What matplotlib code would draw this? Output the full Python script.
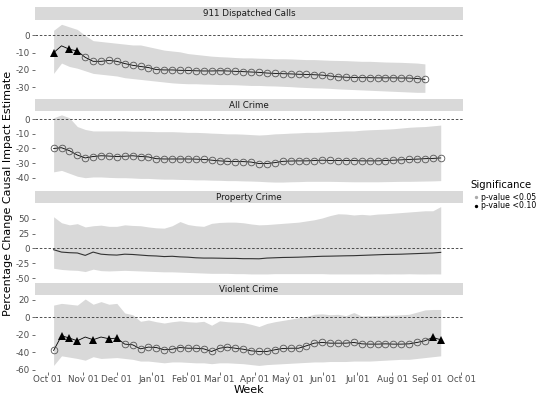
import matplotlib
matplotlib.use("Agg")
import numpy as np
import pandas as pd
import matplotlib.pyplot as plt
import matplotlib.dates as mdates
from matplotlib.lines import Line2D

plt.rcParams["font.family"] = ["DejaVu Sans"]
plt.rcParams["axes.unicode_minus"] = False

# ---------- data (weekly estimates) ----------

START = "2019-10-06"

titles = ["911 Dispatched Calls", "All Crime", "Property Crime", "Violent Crime"]

calls_est = [-10, -6, -8, -9, -12.7, -15, -15, -14.5, -15, -16.3,
             -17.3, -18, -18.6, -19.8, -20, -20, -20.2, -20.3, -20.5, -20.6,
             -20.6, -20.5, -20.6, -20.8, -21, -21.2, -21.4, -21.8, -22, -22.2,
             -22.3, -22.5, -22.6, -22.8, -23, -23.5, -24, -24.2, -24.4, -24.5,
             -24.5, -24.6, -24.6, -24.6, -24.7, -24.7, -25, -25.5]
calls_upper = [3, 6.5, 5, 3.5, 0, -3, -3.5, -4, -4.5, -5,
               -5.5, -5.5, -6.5, -7.5, -8.5, -9, -9.5, -10.5, -11, -11.5,
               -12, -12.3, -12.5, -12.8, -13, -13, -13.2, -13.3, -13.5, -13.5,
               -13.6, -13.8, -14, -14, -14.2, -14.4, -14.5, -14.6, -14.8, -15,
               -15, -15.2, -15.4, -15.5, -15.6, -15.8, -16, -16.5]
calls_lower = [-22, -16, -18, -19, -20.5, -22, -22.5, -23, -23.5, -24.5,
               -25, -25.5, -26, -26.5, -27, -27.5, -27.8, -28, -28, -28.2,
               -28.3, -28.5, -28.5, -28.6, -28.8, -29, -29, -29.2, -29.3, -29.5,
               -29.7, -30, -30.2, -30.4, -30.5, -30.7, -31, -31.2, -31.4, -31.6,
               -31.8, -32, -32.2, -32.4, -32.6, -32.8, -33, -33]
# C = p-value <0.05 (open circle), T = p-value <0.10 (triangle), - = none
calls_sig = "T-TTCCCCCCCCCCCCCCCCCCCCCCCCCCCCCCCCCCCCCCCCCCCC"

crime_est = [-20, -19.5, -21.5, -24.5, -26.5, -25.5, -25, -25.2, -25.5, -25.3,
             -25, -25.5, -25.8, -27, -27.2, -27.2, -27.2, -27.2, -27.3, -27.5,
             -28, -28.5, -28.8, -29, -29, -29.3, -30.3, -30.3, -29.7, -28.8,
             -28.6, -28.5, -28.5, -28.3, -28, -28.2, -28.3, -28.3, -28.3, -28.5,
             -28.5, -28.5, -28.3, -28, -27.8, -27.5, -27.3, -27, -26.8, -26.5]
crime_upper = [1, 3, 1, -5, -7, -8, -8, -8, -8, -8,
               -8.2, -8.2, -8.3, -8.5, -8.5, -8.5, -8.7, -9, -9, -9.2,
               -9.5, -9.7, -10, -10, -10.2, -10.5, -10.8, -10.5, -10, -9.8,
               -9.5, -9.3, -9, -9, -8.8, -8.5, -8.3, -8, -8, -7.5,
               -7.2, -7, -6.8, -6.5, -6, -5.5, -5.2, -5, -4.5, -4]
crime_lower = [-36, -35, -37, -39, -40, -39.5, -39.5, -39.8, -40, -40,
               -40.2, -40.5, -40.5, -40.8, -41, -41, -41.2, -41.3, -41.5, -41.5,
               -41.7, -41.8, -42, -42, -42.2, -42.3, -42.5, -42.8, -43, -43,
               -42.8, -42.7, -42.5, -42.5, -42.5, -42.5, -42.6, -42.7, -42.8, -42.8,
               -42.8, -42.8, -42.7, -42.6, -42.5, -42.5, -42.4, -42.3, -42.2, -42]
crime_sig = "CCCCCCCCCCCCCCCCCCCCCCCCCCCCCCCCCCCCCCCCCCCCCCCCCC"

property_est = [-2, -6, -7, -7.5, -11.5, -6, -9.5, -10.5, -11, -9.5,
                -10, -11, -12, -12.5, -13.5, -13, -14, -14.5, -15.5, -16,
                -16, -16.2, -16.5, -16.5, -17, -17, -17.2, -16, -15.5, -15,
                -14.8, -14.5, -14, -13.5, -13, -12.8, -12.5, -12.2, -12, -11.5,
                -11, -10.5, -10, -9.8, -9.5, -9, -8.5, -8, -7.5, -6.5]
property_upper = [53, 43, 39.5, 41.5, 36, 38, 39, 37, 37, 39.5,
                  38.5, 38, 36, 34.5, 34, 38, 45, 40, 38, 37,
                  42, 43.5, 44, 44, 43, 41, 39.5, 40, 41, 42,
                  43, 44, 46, 48, 51, 55, 58, 57.5, 56, 57,
                  56, 57.5, 58, 59, 60, 61, 62, 63, 63, 70]
property_lower = [-33, -35, -36, -36.5, -38.5, -34.5, -37, -37.5, -37, -36.5,
                  -37, -37.5, -38, -38.5, -39, -39, -39.5, -40, -40.5, -41,
                  -41.5, -41.5, -41.5, -42, -42, -42.5, -42.5, -42.5, -42, -42,
                  -42, -42, -42, -42, -42, -42.5, -42.5, -42.5, -42.5, -42.5,
                  -42.5, -42.3, -42.6, -42.4, -42.5, -42.2, -42.5, -42.6, -42.4, -42.5]
property_sig = "--------------------------------------------------"

violent_est = [-37.9, -21, -23.7, -26.8, -22.5, -25.6, -22.5, -24.5, -23.7, -30.6,
               -31.4, -36, -34, -34.5, -37.1, -36.4, -34.5, -35.3, -35.3, -36,
               -39, -35.3, -34, -35.3, -36.4, -38.3, -39, -39, -37.1, -35.6,
               -35.3, -35.3, -32.5, -29.5, -28.7, -29.5, -29.5, -29.5, -28.7, -30.3,
               -30.6, -30.6, -30.3, -30.6, -30.6, -30.3, -28.7, -26.8, -23, -25.6]
violent_upper = [14, 16, 15, 14, 21, 15, 18, 15, 16, 5,
                 3, -4.5, -3, -5, -6.5, -5, -4, -5, -5.5, -4.5,
                 -9, -4, -5, -5.5, -6, -8, -10.5, -7, -5, -3.5,
                 -2, -0.5, 1, 3.5, 4, 3, 3.5, 2, 5.5, 1.5,
                 2, 2, 2.5, 2.5, 3, 3.5, 6, 8.5, 9, 9]
violent_lower = [-55, -44, -45.5, -47, -49, -45, -47, -46.5, -46, -47,
                 -48, -50, -50, -51, -52, -51, -51, -51.5, -52, -52,
                 -53, -52, -52, -52.5, -53, -54, -55, -54, -53.5, -53,
                 -52.5, -52, -51.5, -51, -51, -50.5, -50.5, -50.5, -50, -50,
                 -50, -49.5, -49, -48.5, -48, -48, -47, -46, -45, -44]
violent_sig = "CTTT-T-TTCCCCCCCCCCCCCCCCCCCCCCCCCCCCCCCCCCCCCCCTT"

y_ticks = [[0, -10, -20, -30],
           [0, -10, -20, -30, -40],
           [50, 25, 0, -25, -50],
           [20, 0, -20, -40, -60]]
y_limits = [(-36, 8.7), (-47.4, 5.3), (-54.3, 76), (-62.5, 25)]

series = [
    (calls_est, calls_upper, calls_lower, calls_sig),
    (crime_est, crime_upper, crime_lower, crime_sig),
    (property_est, property_upper, property_lower, property_sig),
    (violent_est, violent_upper, violent_lower, violent_sig),
]

# ---------- layout (pixels of a 550x398 canvas) ----------

W, H = 550, 398
LEFT, RIGHT = 35, 463
PANELS = [(20.5, 97.5), (111.5, 188.5), (203, 281), (295.5, 372)]
STRIPS = [(7, 20), (99, 111), (191, 203), (283, 295)]
BAND = "#d9d9d9"
TICK_TXT = "#4d4d4d"


def fig_rect(top, bottom):
    return [LEFT / W, 1 - bottom / H, (RIGHT - LEFT) / W, (bottom - top) / H]


fig = plt.figure(figsize=(5.5, 3.98), dpi=100)

x_lo = pd.Timestamp("2019-09-19 12:00")
x_hi = pd.Timestamp("2020-10-02 18:00")

for i, (est, up, lo, sig) in enumerate(series):
    dates = pd.date_range(START, periods=len(est), freq="7D")
    est = np.array(est)
    codes = np.array(list(sig))

    ax = fig.add_axes(fig_rect(*PANELS[i]))
    ax.fill_between(dates, lo, up, color=BAND, lw=0)
    ax.axhline(0, color="#333333", lw=0.6, ls=(0, (3, 2.2)))

    if (codes == "-").all():
        ax.plot(dates, est, color="#333333", lw=0.8)
    else:
        ax.plot(dates, est, color="black", lw=0.6)
        c = codes == "C"
        ax.plot(dates[c], est[c], "o", mfc="none", mec="#555555",
                ms=4.8, mew=0.6)
        t = codes == "T"
        ax.plot(dates[t], est[t], "^", color="black", ms=5.2, mew=0)

    ax.set_xlim(x_lo, x_hi)
    ax.set_ylim(*y_limits[i])
    ax.set_yticks(y_ticks[i])
    ax.set_yticklabels([str(v) for v in y_ticks[i]])
    for s in ax.spines.values():
        s.set_visible(False)
    ax.set_facecolor("none")
    ax.tick_params(axis="y", length=2.5, width=0.5, color="#333333",
                   labelsize=6.3, labelcolor=TICK_TXT, pad=1.2)
    ax.xaxis.set_major_locator(mdates.MonthLocator(bymonthday=1))
    ax.xaxis.set_major_formatter(mdates.DateFormatter("%b %d"))
    if i < 3:
        ax.tick_params(axis="x", bottom=False, labelbottom=False)
    else:
        ax.tick_params(axis="x", length=1.8, width=0.5, color="#333333",
                       labelsize=6.3, labelcolor=TICK_TXT, pad=0.2)

    # facet strip
    sax = fig.add_axes(fig_rect(*STRIPS[i]))
    sax.set_facecolor(BAND)
    sax.set_xticks([])
    sax.set_yticks([])
    for s in sax.spines.values():
        s.set_visible(False)
    sax.text(0.5, 0.5, titles[i], ha="center", va="center",
             fontsize=6.3, color="#1a1a1a", transform=sax.transAxes)

fig.text(8 / W, 1 - 193 / H, "Percentage Change Causal Impact Estimate",
         rotation=90, ha="center", va="center", fontsize=8)
fig.text(249 / W, 1 - 390 / H, "Week", ha="center", va="center", fontsize=8)

# legend
fig.text(470 / W, 1 - 185 / H, "Significance", ha="left", va="center",
         fontsize=7.3)
leg_items = [("p-value <0.05", "#aaaaaa", 197), ("p-value <0.10", "black", 205.5)]
for label, col, ypx in leg_items:
    fig.add_artist(Line2D([475.5 / W], [1 - ypx / H], marker="o", ms=1.4,
                          color=col, lw=0, transform=fig.transFigure))
    fig.text(481 / W, 1 - ypx / H, label, ha="left", va="center",
             fontsize=5.6, color="black")

fig.savefig("out.png", dpi=100)
